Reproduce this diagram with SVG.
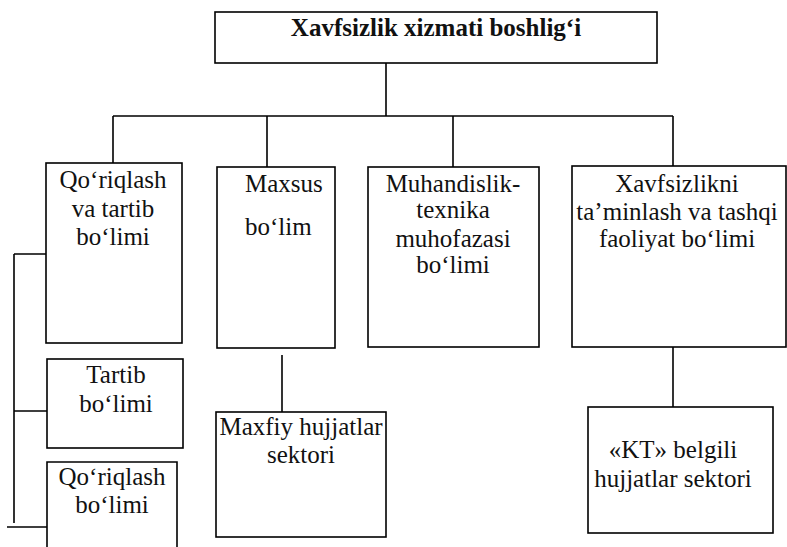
<svg xmlns="http://www.w3.org/2000/svg" width="787" height="547" viewBox="0 0 787 547">
<style>
.box{fill:#fff;stroke:#000;stroke-width:1.6}
.ln{fill:none;stroke:#000;stroke-width:1.6}
text{font-family:"Liberation Serif","Times New Roman",serif;font-size:25px;fill:#111}
.c{text-anchor:middle}
.b{font-weight:bold}
</style>
<rect width="787" height="547" fill="#fff"/>
<g id="connectors">
<path class="ln" d="M386 63V116M113 116H673M113 116V163M267 116V167M453 116V167M673 116V167"/>
<path class="ln" d="M14 254H46M14 254V523M14 411H47M7 527H55"/>
<path class="ln" d="M282 355V412"/>
<path class="ln" d="M673 347V407"/>
</g>
<g id="head">
<rect class="box" x="215" y="12" width="442" height="51"/>
<text class="c b" x="436" y="36">Xavfsizlik xizmati boshlig‘i</text>
</g>
<g id="qoriqlash-tartib">
<rect class="box" x="46" y="163" width="136" height="180"/>
<text class="c" x="113" y="188">Qo‘riqlash</text>
<text class="c" x="113" y="217">va tartib</text>
<text class="c" x="113" y="245">bo‘limi</text>
</g>
<g id="maxsus">
<rect class="box" x="217" y="167" width="118" height="181"/>
<text x="245" y="192">Maxsus</text>
<text x="245" y="235">bo‘lim</text>
</g>
<g id="muhandislik">
<rect class="box" x="368" y="167" width="171" height="180"/>
<text class="c" x="453" y="192">Muhandislik-</text>
<text class="c" x="453" y="218">texnika</text>
<text class="c" x="453" y="247">muhofazasi</text>
<text class="c" x="453" y="273">bo‘limi</text>
</g>
<g id="xavfsizlikni">
<rect class="box" x="572" y="166" width="214" height="181"/>
<text class="c" x="677" y="192">Xavfsizlikni</text>
<text class="c" x="677" y="220">ta’minlash va tashqi</text>
<text class="c" x="677" y="247">faoliyat bo‘limi</text>
</g>
<g id="tartib">
<rect class="box" x="47" y="359" width="136" height="89"/>
<text class="c" x="116" y="383">Tartib</text>
<text class="c" x="116" y="412">bo‘limi</text>
</g>
<g id="qoriqlash">
<path class="box" d="M47 548V462H177V548"/>
<text class="c" x="112" y="485">Qo‘riqlash</text>
<text class="c" x="112" y="513">bo‘limi</text>
</g>
<g id="maxfiy">
<rect class="box" x="216" y="412" width="170" height="125"/>
<text class="c" x="301" y="435">Maxfiy hujjatlar</text>
<text class="c" x="301" y="463">sektori</text>
</g>
<g id="kt">
<rect class="box" x="588" y="407" width="185" height="126"/>
<text class="c" x="673" y="458">«KT» belgili</text>
<text class="c" x="673" y="487">hujjatlar sektori</text>
</g>
</svg>
